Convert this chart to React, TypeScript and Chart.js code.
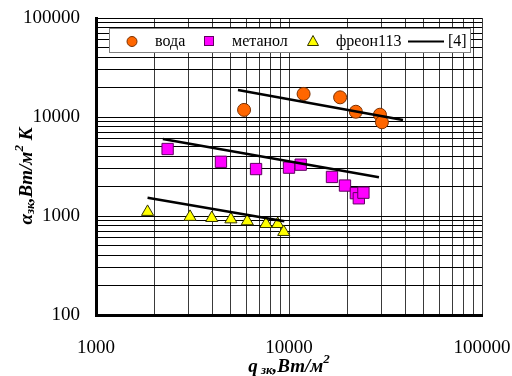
import React, { useEffect, useRef } from 'react';
import { Chart, registerables } from 'chart.js';

Chart.register(...registerables);

const FONT = "'Liberation Serif', 'Times New Roman', Times, serif";

// Data
const waterQ = [5850, 11900, 18400, 22200, 29600, 30300];
const waterA = [11800, 17100, 15800, 11300, 10550, 8850];

const methanolQ = [2350, 4440, 6750, 10000, 11500, 16700, 19500, 22200, 23000, 24300];
const methanolA = [4750, 3530, 2980, 3080, 3300, 2480, 2030, 1700, 1510, 1720];

const freonQ = [1850, 3070, 3980, 5000, 6080, 7600, 8740, 9390];
const freonA = [1100, 980, 955, 925, 885, 830, 830, 690];

// Correlation lines [4]
const lineWaterQ = [5440, 38970];
const lineWaterA = [18740, 9330];
const lineMethanolQ = [2220, 29250];
const lineMethanolA = [5990, 2460];
const lineFreonQ = [1850, 9460];
const lineFreonA = [1530, 884];

// Axes
const xMin = 1000;
const xMax = 100000;
const yMin = 100;
const yMax = 100000;
const xTickLabels = ['1000', '10000', '100000'];
const yTickLabels = ['100', '1000', '10000', '100000'];
const mantissas = [1, 2, 3, 4, 5, 6, 7, 8, 9];

const legendLabels = ['вода', 'метанол', 'фреон113', '[4]'];

function gridValues(lo: number, hi: number): number[] {
  const out: number[] = [];
  for (let d = lo; d < hi; d *= 10) {
    for (const m of mantissas) out.push(m * d);
  }
  out.push(hi);
  return out;
}

function pts(xs: number[], ys: number[]) {
  return xs.map((x, i) => ({ x, y: ys[i] }));
}

type Part = { t: string; size: number; dy: number };

function richWidth(ctx: CanvasRenderingContext2D, parts: Part[]) {
  let w = 0;
  for (const p of parts) {
    ctx.font = `italic bold ${p.size}px ${FONT}`;
    w += ctx.measureText(p.t).width;
  }
  return w;
}

function drawRich(ctx: CanvasRenderingContext2D, parts: Part[], x: number, y: number) {
  let cx = x;
  ctx.textBaseline = 'alphabetic';
  ctx.textAlign = 'left';
  for (const p of parts) {
    ctx.font = `italic bold ${p.size}px ${FONT}`;
    ctx.fillText(p.t, cx, y + p.dy);
    cx += ctx.measureText(p.t).width;
  }
}

const overlayPlugin = {
  id: 'overlay',
  afterDraw(chart: any) {
    const ctx: CanvasRenderingContext2D = chart.ctx;
    ctx.save();

    // Legend box
    ctx.fillStyle = '#ffffff';
    ctx.fillRect(109, 28, 362, 25);
    ctx.strokeStyle = '#808080';
    ctx.lineWidth = 1;
    ctx.strokeRect(109.5, 28.5, 361, 24);

    const cy = 41.5;
    // circle
    ctx.beginPath();
    ctx.arc(132, cy, 5, 0, Math.PI * 2);
    ctx.fillStyle = '#FF6600';
    ctx.fill();
    ctx.strokeStyle = '#7a3000';
    ctx.stroke();
    // square
    ctx.fillStyle = '#FF00FF';
    ctx.fillRect(204.5, cy - 5, 9, 9);
    ctx.strokeStyle = '#600060';
    ctx.strokeRect(204.5, cy - 5, 9, 9);
    // triangle
    ctx.beginPath();
    ctx.moveTo(313, cy - 6);
    ctx.lineTo(318.5, cy + 4);
    ctx.lineTo(307.5, cy + 4);
    ctx.closePath();
    ctx.fillStyle = '#FFFF00';
    ctx.fill();
    ctx.strokeStyle = '#333300';
    ctx.stroke();
    // line
    ctx.beginPath();
    ctx.moveTo(408, cy);
    ctx.lineTo(444, cy);
    ctx.strokeStyle = '#000';
    ctx.lineWidth = 2;
    ctx.stroke();

    ctx.fillStyle = '#000';
    ctx.font = `16px ${FONT}`;
    ctx.textBaseline = 'alphabetic';
    ctx.textAlign = 'left';
    ctx.fillText(legendLabels[0], 155, 46);
    ctx.fillText(legendLabels[1], 232, 46);
    ctx.fillText(legendLabels[2], 336, 46);
    ctx.fillText(legendLabels[3], 448, 46);

    // X axis title
    const xParts: Part[] = [
      { t: 'q', size: 19, dy: 0 },
      { t: ' зк', size: 13, dy: 2 },
      { t: ',Вт/м', size: 19, dy: 0 },
      { t: '2', size: 13, dy: -9 },
    ];
    const xw = richWidth(ctx, xParts);
    ctx.fillStyle = '#000';
    drawRich(ctx, xParts, 289 - xw / 2, 372);

    // Y axis title (rotated)
    const yParts: Part[] = [
      { t: 'α', size: 19, dy: 0 },
      { t: 'зк', size: 13, dy: 2 },
      { t: ',Вт/м', size: 19, dy: 0 },
      { t: '2', size: 13, dy: -9 },
      { t: ' К', size: 19, dy: 0 },
    ];
    const yw = richWidth(ctx, yParts);
    ctx.translate(32, 176);
    ctx.rotate(-Math.PI / 2);
    drawRich(ctx, yParts, -yw / 2, 0);

    ctx.restore();
  },
};

export default function App() {
  const ref = useRef<HTMLCanvasElement>(null);

  useEffect(() => {
    document.body.style.margin = '0';
    const canvas = ref.current;
    if (!canvas) return;

    const xGrid = gridValues(xMin, xMax);
    const yGrid = gridValues(yMin, yMax);

    const chart = new Chart(canvas, {
      type: 'scatter',
      data: {
        datasets: [
          {
            label: legendLabels[3],
            data: pts(lineWaterQ, lineWaterA),
            showLine: true,
            borderColor: '#000',
            borderWidth: 2.5,
            pointRadius: 0,
            order: 0,
          },
          {
            label: legendLabels[3] + 'm',
            data: pts(lineMethanolQ, lineMethanolA),
            showLine: true,
            borderColor: '#000',
            borderWidth: 2.5,
            pointRadius: 0,
            order: 0,
          },
          {
            label: legendLabels[3] + 'f',
            data: pts(lineFreonQ, lineFreonA),
            showLine: true,
            borderColor: '#000',
            borderWidth: 2.5,
            pointRadius: 0,
            order: 0,
          },
          {
            label: legendLabels[0],
            data: pts(waterQ, waterA),
            pointStyle: 'circle',
            pointRadius: 6.5,
            backgroundColor: '#FF6600',
            borderColor: '#7a3000',
            borderWidth: 1,
            order: 1,
          },
          {
            label: legendLabels[1],
            data: pts(methanolQ, methanolA),
            pointStyle: 'rect',
            pointRadius: 8,
            backgroundColor: '#FF00FF',
            borderColor: '#600060',
            borderWidth: 1,
            order: 1,
          },
          {
            label: legendLabels[2],
            data: pts(freonQ, freonA),
            pointStyle: 'triangle',
            pointRadius: 7,
            backgroundColor: '#FFFF00',
            borderColor: '#333300',
            borderWidth: 1,
            order: 1,
          },
        ],
      },
      options: {
        responsive: false,
        animation: false,
        devicePixelRatio: 1,
        layout: { padding: { top: 18, right: 30, left: 0, bottom: 0 } },
        plugins: {
          legend: { display: false },
          tooltip: { enabled: false },
        },
        scales: {
          x: {
            type: 'logarithmic',
            min: xMin,
            max: xMax,
            afterBuildTicks: (scale: any) => {
              scale.ticks = xGrid.map((v) => ({ value: v }));
            },
            afterFit: (scale: any) => {
              scale.height = 61;
              scale.paddingLeft = 0;
              scale.paddingRight = 0;
            },
            grid: { color: '#3a3a3a', lineWidth: 1, drawTicks: false },
            border: { display: true, color: '#000', width: 3 },
            ticks: {
              autoSkip: false,
              maxRotation: 0,
              padding: 22,
              color: '#000',
              font: { family: FONT, size: 19 },
              callback: (v: any) => (xTickLabels.includes(String(v)) ? String(v) : ''),
            },
          },
          y: {
            type: 'logarithmic',
            min: yMin,
            max: yMax,
            afterBuildTicks: (scale: any) => {
              scale.ticks = yGrid.map((v) => ({ value: v }));
            },
            afterFit: (scale: any) => {
              scale.width = 96;
              scale.paddingTop = 0;
              scale.paddingBottom = 0;
            },
            grid: { color: '#000', lineWidth: 1, drawTicks: false },
            border: { display: true, color: '#000', width: 3 },
            ticks: {
              autoSkip: false,
              padding: 16,
              color: '#000',
              font: { family: FONT, size: 19 },
              callback: (v: any) => (yTickLabels.includes(String(v)) ? String(v) : ''),
            },
          },
        },
      },
      plugins: [overlayPlugin],
    } as any);

    return () => chart.destroy();
  }, []);

  return (
    <div style={{ width: 512, height: 376 }}>
      <canvas ref={ref} width={512} height={376} style={{ display: 'block' }} />
    </div>
  );
}
